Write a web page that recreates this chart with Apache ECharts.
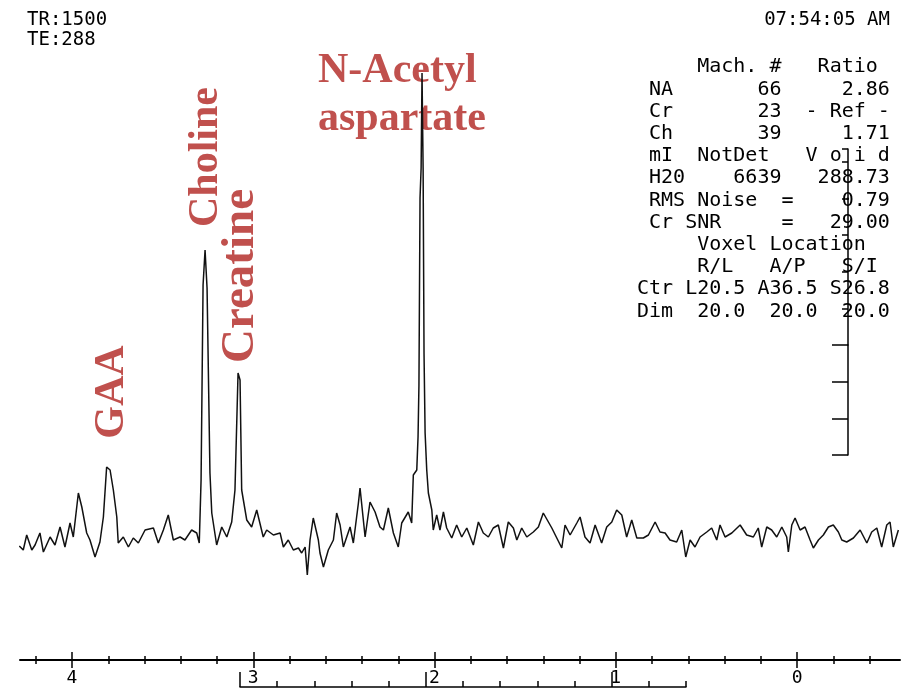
<!DOCTYPE html>
<html>
<head>
<meta charset="utf-8">
<title>MR spectrum</title>
<script src="https://cdn.jsdelivr.net/npm/echarts@6.0.0/dist/echarts.min.js"></script>
<style>
  html, body { margin: 0; padding: 0; background: #fff; }
  #chart { width: 911px; height: 689px; }
</style>
</head>
<body>
<div id="chart"></div>
<script>
// chemical shift (ppm) from left to right
var ppm = [
  4.291, 4.269, 4.250, 4.222, 4.204, 4.177, 4.158, 4.121, 4.094, 4.066,
  4.039, 4.011, 3.993, 3.965, 3.946, 3.919, 3.901, 3.873, 3.846, 3.827,
  3.809, 3.790, 3.772, 3.753, 3.745, 3.717, 3.689, 3.662, 3.634, 3.597,
  3.551, 3.524, 3.496, 3.469, 3.441, 3.404, 3.377, 3.340, 3.312, 3.298,
  3.288, 3.277, 3.266, 3.255, 3.239, 3.229, 3.202, 3.174, 3.146, 3.119,
  3.101, 3.084, 3.073, 3.064, 3.036, 3.009, 2.981, 2.945, 2.926, 2.889,
  2.852, 2.834, 2.807, 2.779, 2.751, 2.733, 2.714, 2.702, 2.687, 2.669,
  2.641, 2.632, 2.613, 2.586, 2.558, 2.540, 2.521, 2.503, 2.466, 2.448,
  2.420, 2.411, 2.383, 2.356, 2.328, 2.301, 2.282, 2.255, 2.227, 2.200,
  2.181, 2.145, 2.126, 2.117, 2.098, 2.091, 2.086, 2.080, 2.074, 2.069,
  2.063, 2.058, 2.052, 2.043, 2.034, 2.015, 2.007, 1.988, 1.970, 1.951,
  1.933, 1.905, 1.878, 1.850, 1.822, 1.786, 1.758, 1.731, 1.703, 1.676,
  1.648, 1.620, 1.593, 1.565, 1.546, 1.519, 1.491, 1.455, 1.427, 1.400,
  1.353, 1.298, 1.280, 1.252, 1.215, 1.197, 1.170, 1.142, 1.114, 1.078,
  1.050, 1.022, 0.995, 0.967, 0.940, 0.912, 0.884, 0.848, 0.820, 0.783,
  0.756, 0.728, 0.701, 0.664, 0.636, 0.614, 0.590, 0.563, 0.535, 0.498,
  0.471, 0.443, 0.425, 0.397, 0.360, 0.314, 0.278, 0.241, 0.214, 0.195,
  0.167, 0.140, 0.112, 0.084, 0.057, 0.048, 0.029, 0.011, -0.017, -0.044,
  -0.072, -0.090, -0.118, -0.145, -0.173, -0.200, -0.228, -0.247, -0.274, -0.311,
  -0.348, -0.385, -0.412, -0.440, -0.467, -0.495, -0.513, -0.531, -0.559
];
// signal, arbitrary units (baseline around 0)
var signal = [
  0, -4, 11, -4, 1, 13, -6, 9, 1, 19,
  -1, 23, 9, 53, 39, 13, 6, -11, 4, 29,
  79, 76, 56, 29, 3, 9, -1, 8, 3, 16,
  18, 3, 16, 31, 6, 9, 6, 16, 13, 3,
  66, 261, 296, 258, 73, 33, 1, 19, 9, 24,
  56, 173, 166, 56, 26, 19, 36, 9, 16, 11,
  13, -1, 6, -4, -2, -7, -1, -29, 6, 28,
  6, -7, -21, -4, 6, 33, 21, -1, 19, 3,
  43, 58, 9, 44, 34, 19, 16, 38, 13, -1,
  23, 34, 23, 71, 76, 109, 161, 348, 378, 473,
  378, 193, 113, 76, 53, 36, 16, 31, 16, 34,
  18, 8, 21, 9, 18, 1, 24, 13, 9, 18,
  21, -2, 24, 18, 6, 18, 9, 14, 19, 33,
  18, -2, 21, 11, 23, 29, 9, 3, 21, 3,
  19, 24, 36, 31, 9, 26, 8, 8, 11, 24,
  14, 13, 6, 4, 16, -11, 6, -1, 9, 14,
  18, 6, 21, 9, 13, 21, 11, 9, 18, -1,
  19, 16, 9, 19, 9, -6, 21, 28, 16, 19,
  6, -2, 6, 11, 19, 21, 14, 6, 4, 8,
  16, 3, 14, 18, -1, 21, 24, -1, 16
];

// axis ticks
var ppmTicks = [4, 3, 2, 1, 0];
var ppmMinorTicks = [4.2, 3.8, 3.6, 3.4, 3.2, 2.8, 2.6, 2.4, 2.2, 1.8, 1.6, 1.4, 1.2, 0.8, 0.6, 0.4, 0.2, -0.2, -0.4];
var refTicks = [3, 2, 1];
var refMinorTicks = [2.8, 2.6, 2.4, 2.2, 1.8, 1.6, 1.4, 1.2, 0.8, 0.6];

// header and results table
var headerLeft = ['TR:1500', 'TE:288'];
var headerTime = '07:54:05 AM';
var statRows = [
  '     Mach. #   Ratio',
  ' NA       66     2.86',
  ' Cr       23  - Ref -',
  ' Ch       39     1.71',
  ' mI  NotDet   V o i d',
  ' H20    6639   288.73',
  ' RMS Noise  =    0.79',
  ' Cr SNR     =   29.00',
  '     Voxel Location',
  '     R/L   A/P   S/I',
  'Ctr L20.5 A36.5 S26.8',
  'Dim  20.0  20.0  20.0'
];

var mono = '"DejaVu Sans Mono", monospace';
var peakFont = 'bold 42px "Liberation Serif", "DejaVu Serif", serif';
var peakColor = '#c0504d';

var chart = echarts.init(document.getElementById('chart'));

var spectrum = ppm.map(function (p, i) { return [p, signal[i]]; });

// the ppm axis is drawn several times: ticks up / down, major / minor
function ppmAxis(extra) {
  var base = {
    type: 'value', gridIndex: 0, position: 'bottom', min: -0.568, max: 4.287, inverse: true,
    offset: 14, splitLine: { show: false },
    axisLine: { show: false, onZero: false },
    axisLabel: { show: false }
  };
  return Object.assign(base, extra);
}

chart.setOption({
  animation: false,
  backgroundColor: '#fff',
  grid: [
    { left: 20, right: 11, top: 60, bottom: 43 },   // spectrum
    { left: 240, right: 225, top: 660, bottom: 2 }, // reference bracket
    { left: 800, right: 63, top: 149, bottom: 344 },// amplitude bar, upper part
    { left: 800, right: 63, top: 345, bottom: 234 } // amplitude bar, lower part
  ],
  xAxis: [
    ppmAxis({
      axisLine: { show: true, onZero: false, lineStyle: { color: '#000', width: 2 } },
      axisTick: { customValues: ppmTicks, length: 8, lineStyle: { color: '#000', width: 1.5 } },
      axisLabel: { customValues: ppmTicks, color: '#000', fontFamily: mono, fontSize: 18, margin: 9 }
    }),
    ppmAxis({ axisTick: { customValues: ppmTicks, inside: true, length: 8, lineStyle: { color: '#000', width: 1.5 } } }),
    ppmAxis({ axisTick: { customValues: ppmMinorTicks, length: 4, lineStyle: { color: '#000', width: 1.5 } } }),
    ppmAxis({ axisTick: { customValues: ppmMinorTicks, inside: true, length: 4, lineStyle: { color: '#000', width: 1.5 } } }),
    {
      type: 'value', gridIndex: 1, position: 'bottom', min: 0.6, max: 3.0, inverse: true,
      splitLine: { show: false }, axisLabel: { show: false },
      axisLine: { onZero: false, lineStyle: { color: '#000', width: 1.5 } },
      axisTick: { customValues: refTicks, inside: true, length: 15, lineStyle: { color: '#000', width: 1.5 } }
    },
    {
      type: 'value', gridIndex: 1, position: 'bottom', min: 0.6, max: 3.0, inverse: true,
      splitLine: { show: false }, axisLine: { show: false, onZero: false }, axisLabel: { show: false },
      axisTick: { customValues: refMinorTicks, inside: true, length: 6, lineStyle: { color: '#000', width: 1.5 } }
    },
    { type: 'value', gridIndex: 2, show: false, min: 0, max: 1 },
    { type: 'value', gridIndex: 3, show: false, min: 0, max: 1 }
  ],
  yAxis: [
    { type: 'value', gridIndex: 0, show: false, min: -100, max: 486 },
    { type: 'value', gridIndex: 1, show: false, min: 0, max: 1 },
    {
      type: 'value', gridIndex: 2, position: 'right', min: 0, max: 5.345, interval: 1,
      splitLine: { show: false }, axisLabel: { show: false },
      axisLine: { show: true, onZero: false, lineStyle: { color: '#000', width: 1.5 } },
      axisTick: { inside: true, length: 6, lineStyle: { color: '#000', width: 1.5 } }
    },
    {
      type: 'value', gridIndex: 3, position: 'right', min: 0, max: 3, interval: 1,
      splitLine: { show: false }, axisLabel: { show: false },
      axisLine: { show: true, onZero: false, lineStyle: { color: '#000', width: 1.5 } },
      axisTick: { inside: true, length: 16, lineStyle: { color: '#000', width: 1.5 } }
    }
  ],
  series: [{
    name: 'Spectrum',
    type: 'line',
    xAxisIndex: 0,
    yAxisIndex: 0,
    showSymbol: false,
    lineStyle: { color: '#111', width: 1.5 },
    data: spectrum
  }],
  graphic: [
    { type: 'text', x: 27, y: 10, style: { text: headerLeft.join('\n'), font: '19px ' + mono, fill: '#000', lineHeight: 20 } },
    { type: 'text', x: 890, y: 10, style: { text: headerTime, font: '19px ' + mono, fill: '#000', align: 'right', lineHeight: 20 } },
    { type: 'text', x: 637, y: 56, style: { text: statRows.join('\n'), font: '20px ' + mono, fill: '#000', lineHeight: 22.2 } },
    { type: 'text', x: 318, y: 47, style: { text: 'N-Acetyl\naspartate', font: peakFont, fill: peakColor, lineHeight: 48 } },
    { type: 'text', x: 206, y: 157, rotation: Math.PI / 2, style: { text: 'Choline', font: peakFont, fill: peakColor, align: 'center', verticalAlign: 'middle' } },
    { type: 'text', x: 241, y: 276, rotation: Math.PI / 2, style: { text: 'Creatine', font: 'bold 47px "Liberation Serif", "DejaVu Serif", serif', fill: peakColor, align: 'center', verticalAlign: 'middle' } },
    { type: 'text', x: 112, y: 392, rotation: Math.PI / 2, style: { text: 'GAA', font: peakFont, fill: peakColor, align: 'center', verticalAlign: 'middle' } }
  ]
});

window.addEventListener('resize', function () { chart.resize(); });
</script>
</body>
</html>
